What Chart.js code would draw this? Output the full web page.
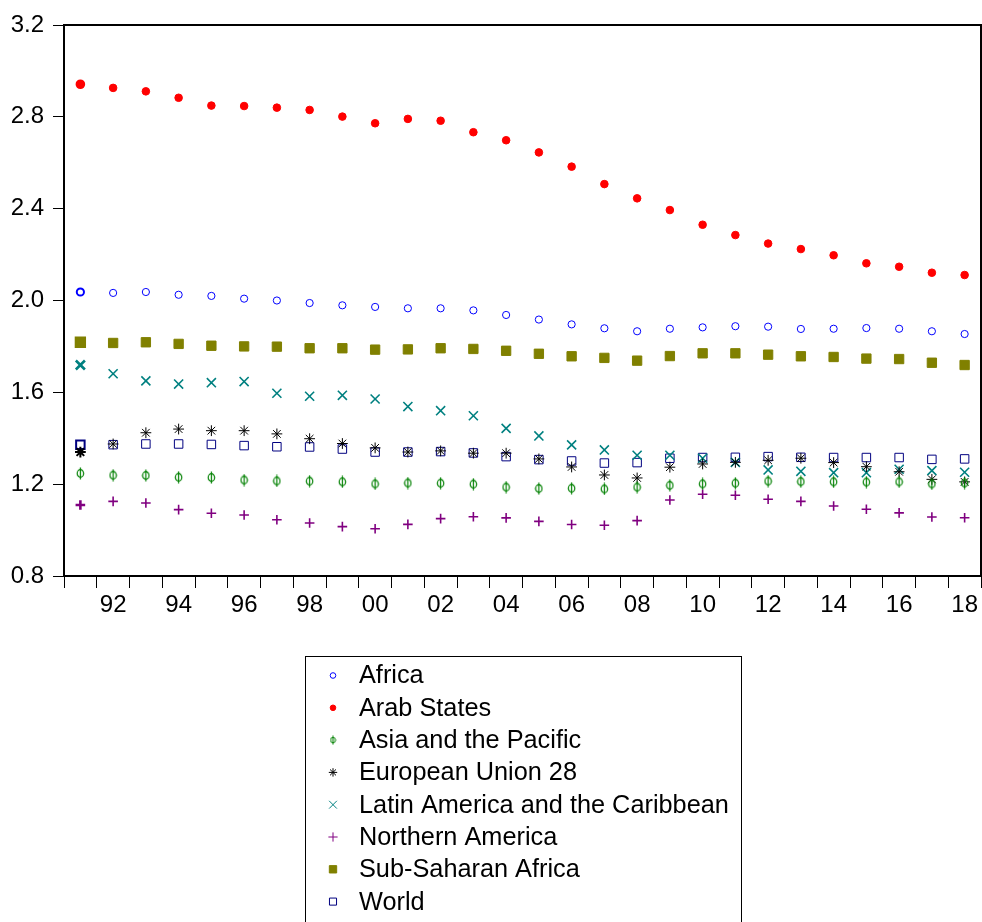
<!DOCTYPE html>
<html>
<head>
<meta charset="utf-8">
<script src="https://cdn.jsdelivr.net/npm/chart.js@4.4.1/dist/chart.umd.min.js"></script>
<style>
  html, body { margin: 0; padding: 0; background: #fff; overflow: hidden; }
  #wrap { width: 982px; height: 922px; position: relative; }
  canvas { display: block; }
</style>
</head>
<body>
<div id="wrap"><canvas id="c" width="982" height="922"></canvas></div>
<script>
// Years on the horizontal axis
const years = [1991,1992,1993,1994,1995,1996,1997,1998,1999,2000,2001,2002,2003,2004,
               2005,2006,2007,2008,2009,2010,2011,2012,2013,2014,2015,2016,2017,2018];

// Vertical axis ticks
const yTicks = [0.8, 1.2, 1.6, 2.0, 2.4, 2.8, 3.2];

// Series names
const seriesNames = ['Africa', 'Arab States', 'Asia and the Pacific', 'European Union 28',
                     'Latin America and the Caribbean', 'Northern America',
                     'Sub-Saharan Africa', 'World'];

// Series values, 1991-2018
const africa  = [2.037,2.033,2.037,2.025,2.020,2.008,2.000,1.989,1.979,1.972,1.966,1.966,1.957,1.937,
                 1.917,1.896,1.879,1.866,1.877,1.883,1.888,1.886,1.876,1.877,1.880,1.877,1.866,1.854];
const arab    = [2.942,2.926,2.911,2.883,2.849,2.847,2.840,2.830,2.801,2.772,2.791,2.783,2.733,2.698,
                 2.645,2.583,2.507,2.445,2.394,2.330,2.285,2.248,2.224,2.197,2.162,2.147,2.121,2.111];
const asiaPac = [1.247,1.239,1.238,1.230,1.229,1.218,1.214,1.213,1.210,1.201,1.205,1.204,1.200,1.187,
                 1.181,1.182,1.179,1.187,1.195,1.201,1.204,1.213,1.211,1.210,1.209,1.210,1.201,1.205];
const eu28    = [1.340,1.375,1.424,1.440,1.433,1.433,1.419,1.398,1.377,1.358,1.340,1.345,1.335,1.335,
                 1.310,1.275,1.240,1.227,1.274,1.288,1.295,1.304,1.313,1.294,1.276,1.254,1.221,1.210];
const latAm   = [1.719,1.681,1.650,1.636,1.642,1.647,1.596,1.583,1.587,1.571,1.538,1.520,1.498,1.443,
                 1.410,1.371,1.349,1.326,1.326,1.313,1.295,1.262,1.256,1.250,1.250,1.265,1.259,1.252];
const northAm = [1.109,1.125,1.118,1.089,1.073,1.066,1.045,1.031,1.015,1.006,1.025,1.050,1.058,1.053,
                 1.038,1.024,1.021,1.041,1.131,1.156,1.152,1.134,1.125,1.105,1.091,1.075,1.057,1.054];
const ssAfrica= [1.818,1.815,1.818,1.811,1.803,1.800,1.799,1.792,1.792,1.786,1.787,1.792,1.789,1.781,
                 1.768,1.757,1.750,1.738,1.758,1.770,1.770,1.764,1.757,1.754,1.747,1.745,1.729,1.719];
const world   = [1.372,1.372,1.375,1.375,1.373,1.368,1.363,1.362,1.353,1.340,1.340,1.342,1.336,1.320,
                 1.307,1.301,1.292,1.294,1.313,1.316,1.317,1.320,1.317,1.316,1.316,1.316,1.308,1.310];

// A small "phi" glyph used as a marker (ellipse crossed by a vertical stroke)
function phiMarker(color, w, h, rx, ry, lw) {
  const c = document.createElement('canvas');
  c.width = w; c.height = h;
  const g = c.getContext('2d');
  g.strokeStyle = color;
  g.lineWidth = lw;
  g.beginPath();
  g.ellipse(w / 2, h / 2, rx, ry, 0, 0, Math.PI * 2);
  g.stroke();
  g.beginPath();
  g.moveTo(w / 2, 0.5);
  g.lineTo(w / 2, h - 0.5);
  g.stroke();
  return c;
}
const phiBig = phiMarker('#008000', 9, 13, 3.2, 3.8, 1.2);
const phiSmall = phiMarker('#008000', 7, 10, 2.4, 2.8, 1);

const firstBold = (base) => (ctx) => ctx.dataIndex === 0 ? base + 1 : base;

function series(label, values, style) {
  return Object.assign({
    label: label,
    data: values,
    showLine: false,
    pointBorderWidth: firstBold(1),
    pointHoverRadius: 0
  }, style);
}

const datasets = [
  series(seriesNames[0], africa,   { pointStyle: 'circle', pointRadius: 3.6, pointBackgroundColor: 'rgba(0,0,0,0)', pointBorderColor: '#0000FF', keyRadius: 2.8 }),
  series(seriesNames[1], arab,     { pointStyle: 'circle', pointRadius: 3.8, pointBackgroundColor: '#FF0000', pointBorderColor: '#FF0000', keyRadius: 2.8 }),
  series(seriesNames[2], asiaPac,  { pointStyle: phiBig, pointRadius: 4, pointBackgroundColor: '#008000', pointBorderColor: '#008000', keyStyle: phiSmall, keyRadius: 3 }),
  series(seriesNames[3], eu28,     { pointStyle: 'star', pointRadius: 5.4, pointBackgroundColor: '#000000', pointBorderColor: '#000000', keyRadius: 4.2 }),
  series(seriesNames[4], latAm,    { pointStyle: 'crossRot', pointRadius: 6.4, pointBackgroundColor: '#008080', pointBorderColor: '#008080', pointBorderWidth: firstBold(1.6), keyRadius: 5.5 }),
  series(seriesNames[5], northAm,  { pointStyle: 'cross', pointRadius: 4.8, pointBackgroundColor: '#800080', pointBorderColor: '#800080', pointBorderWidth: firstBold(1.6), keyRadius: 4.6 }),
  series(seriesNames[6], ssAfrica, { pointStyle: 'rect', pointRadius: 6.6, pointBackgroundColor: '#808000', pointBorderColor: '#808000', keyRadius: 5.2 }),
  series(seriesNames[7], world,    { pointStyle: 'rect', pointRadius: 6.0, pointBackgroundColor: 'rgba(0,0,0,0)', pointBorderColor: '#000080', keyRadius: 5.0 })
];

// Box around the plotting area
const plotFrame = {
  id: 'plotFrame',
  beforeDatasetsDraw(chart) {
    const a = chart.chartArea, ctx = chart.ctx;
    ctx.save();
    ctx.strokeStyle = '#000';
    ctx.lineWidth = 2;
    ctx.strokeRect(a.left, a.top, a.right - a.left, a.bottom - a.top);
    ctx.restore();
  }
};

// Single-column key below the plot, built from the datasets
const seriesKey = {
  id: 'seriesKey',
  afterDraw(chart, args, o) {
    const ctx = chart.ctx;
    ctx.save();
    ctx.strokeStyle = '#000';
    ctx.lineWidth = 1;
    ctx.strokeRect(o.left + 0.5, o.top + 0.5, o.width, o.height);
    ctx.font = o.font;
    ctx.textBaseline = 'middle';
    ctx.textAlign = 'left';
    chart.data.datasets.forEach((ds, i) => {
      const y = o.top + o.firstRow + i * o.rowGap;
      ctx.fillStyle = ds.pointBackgroundColor;
      ctx.strokeStyle = ds.pointBorderColor;
      ctx.lineWidth = 1;
      Chart.helpers.drawPoint(ctx, {
        pointStyle: ds.keyStyle || ds.pointStyle,
        radius: ds.keyRadius,
        rotation: 0,
        borderWidth: 1
      }, o.markerX, y);
      ctx.fillStyle = '#000';
      ctx.fillText(ds.label, o.textX, y + 1);
    });
    ctx.restore();
  }
};

Chart.defaults.font.family = "'Liberation Sans', Arial, sans-serif";
Chart.defaults.font.size = 24;
Chart.defaults.color = '#000';

new Chart(document.getElementById('c'), {
  type: 'line',
  data: { labels: years, datasets: datasets },
  plugins: [plotFrame, seriesKey],
  options: {
    responsive: false,
    animation: false,
    devicePixelRatio: 1,
    layout: { autoPadding: false, padding: { left: 0, top: 25, right: 1, bottom: 296 } },
    plugins: {
      legend: { display: false },
      tooltip: { enabled: false },
      seriesKey: {
        left: 305, top: 656, width: 436, height: 300,
        firstRow: 19.5, rowGap: 32.3,
        markerX: 333, textX: 359,
        font: "25.3px 'Liberation Sans', Arial, sans-serif"
      }
    },
    scales: {
      x: {
        type: 'category',
        offset: true,
        grid: { offset: true, drawOnChartArea: false, drawTicks: true, tickLength: 12, color: '#000', lineWidth: 1 },
        border: { display: true, color: '#000', width: 2 },
        ticks: {
          autoSkip: false,
          maxRotation: 0,
          padding: 3,
          callback: (v, i) => years[i] % 2 === 0 ? String(years[i]).slice(2) : ''
        },
        afterFit: (s) => { s.height = 50; s.paddingLeft = 0; s.paddingRight = 0; }
      },
      y: {
        min: yTicks[0],
        max: yTicks[yTicks.length - 1],
        afterBuildTicks: (s) => { s.ticks = yTicks.map(v => ({ value: v })); },
        grid: { drawOnChartArea: false, drawTicks: true, tickLength: 11, color: '#000', lineWidth: 1 },
        border: { display: true, color: '#000', width: 2 },
        ticks: { padding: 9, callback: (v) => Number(v).toFixed(1) },
        afterFit: (s) => { s.width = 64; s.paddingTop = 0; s.paddingBottom = 0; }
      }
    }
  }
});
</script>
</body>
</html>
